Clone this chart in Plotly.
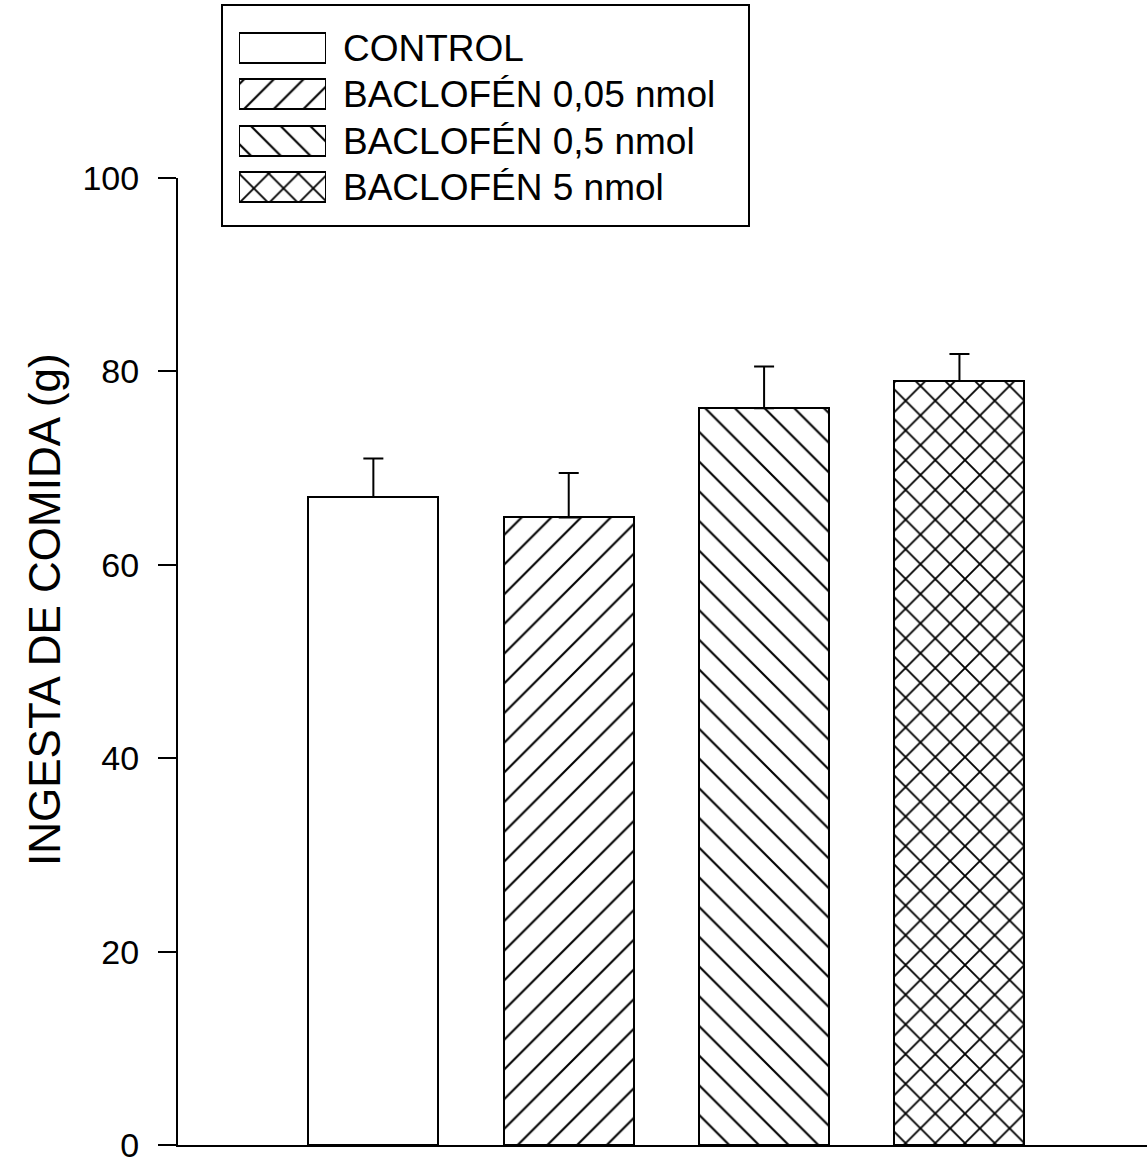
import plotly.graph_objects as go

categories = ["CONTROL", "BACLOFÉN 0,05 nmol", "BACLOFÉN 0,5 nmol", "BACLOFÉN 5 nmol"]
values = [67.0, 64.9, 76.2, 79.0]
errors = [4.0, 4.6, 4.3, 2.8]
patterns = ["", "/", "\\", "x"]
y_ticks = [0, 20, 40, 60, 80, 100]
y_title = "INGESTA DE COMIDA (g)"

FONT = "Liberation Sans, Arial, sans-serif"
W, H = 1147, 1163
L, B = 178, 18
plot_w = W - L
plot_h = H - B  # paper height (t=0)

def px_x(p):
    return (p - L) / plot_w

def px_y(p):
    return (plot_h - p) / plot_h

solid = [0.1, 0.1, 0.1, 0.17]

def pattern():
    return dict(shape=patterns, fgcolor="black", bgcolor="white", fgopacity=1,
                size=21, solidity=solid, fillmode="overlay")

fig = go.Figure()

# main bars
fig.add_trace(go.Bar(
    x=categories, y=values,
    width=0.665,
    marker=dict(color="white", line=dict(color="black", width=2), pattern=pattern()),
    error_y=dict(type="data", array=errors, arrayminus=[0] * len(errors), symmetric=False,
                 color="black", thickness=2, width=10),
    showlegend=False, xaxis="x", yaxis="y",
))

# legend patches (drawn as bars on a small inset axis)
fig.add_trace(go.Bar(
    y=categories, x=[1] * len(categories), orientation="h",
    width=0.65,
    marker=dict(color="white", line=dict(color="black", width=2), pattern=pattern()),
    showlegend=False, xaxis="x2", yaxis="y2", hoverinfo="skip",
))

fig.update_layout(
    width=W, height=H,
    margin=dict(l=L, r=0, t=0, b=B, autoexpand=False),
    paper_bgcolor="white", plot_bgcolor="white",
    font=dict(family=FONT, color="black"),
    bargap=0,
    xaxis=dict(
        domain=[0, 1], range=[-1.0, 3.96], type="category",
        showline=True, linecolor="black", linewidth=2,
        ticks="", showticklabels=False, showgrid=False, zeroline=False,
        anchor="y",
    ),
    yaxis=dict(
        domain=[0, px_y(178)], range=[0, 100],
        tickvals=y_ticks, ticktext=[str(v) for v in y_ticks],
        showline=True, linecolor="black", linewidth=2,
        ticks="outside", ticklen=18, tickwidth=2, tickcolor="black",
        tickfont=dict(size=34, family=FONT), ticklabelstandoff=12,
        ticklabeloverflow="allow",
        showgrid=False, zeroline=False, anchor="x",
    ),
    xaxis2=dict(
        domain=[px_x(239), px_x(326)], range=[0, 1], visible=False,
        anchor="y2", fixedrange=True,
    ),
    yaxis2=dict(
        domain=[px_y(210), px_y(25)], type="category",
        categoryorder="array", categoryarray=categories, autorange="reversed",
        side="right", anchor="x2", showline=False, showgrid=False, zeroline=False,
        ticks="", tickfont=dict(size=37, family=FONT), ticklabelstandoff=16,
        fixedrange=True,
    ),
    shapes=[dict(type="rect", xref="paper", yref="paper",
                 x0=px_x(222), x1=px_x(749), y0=px_y(226), y1=px_y(5),
                 line=dict(color="black", width=2), fillcolor="rgba(0,0,0,0)", layer="below")],
    annotations=[dict(text=y_title, xref="paper", yref="paper",
                      x=px_x(44), y=px_y(610), showarrow=False, textangle=-90,
                      font=dict(size=44, family=FONT), xanchor="center", yanchor="middle")],
)

fig.write_html("out.html")
